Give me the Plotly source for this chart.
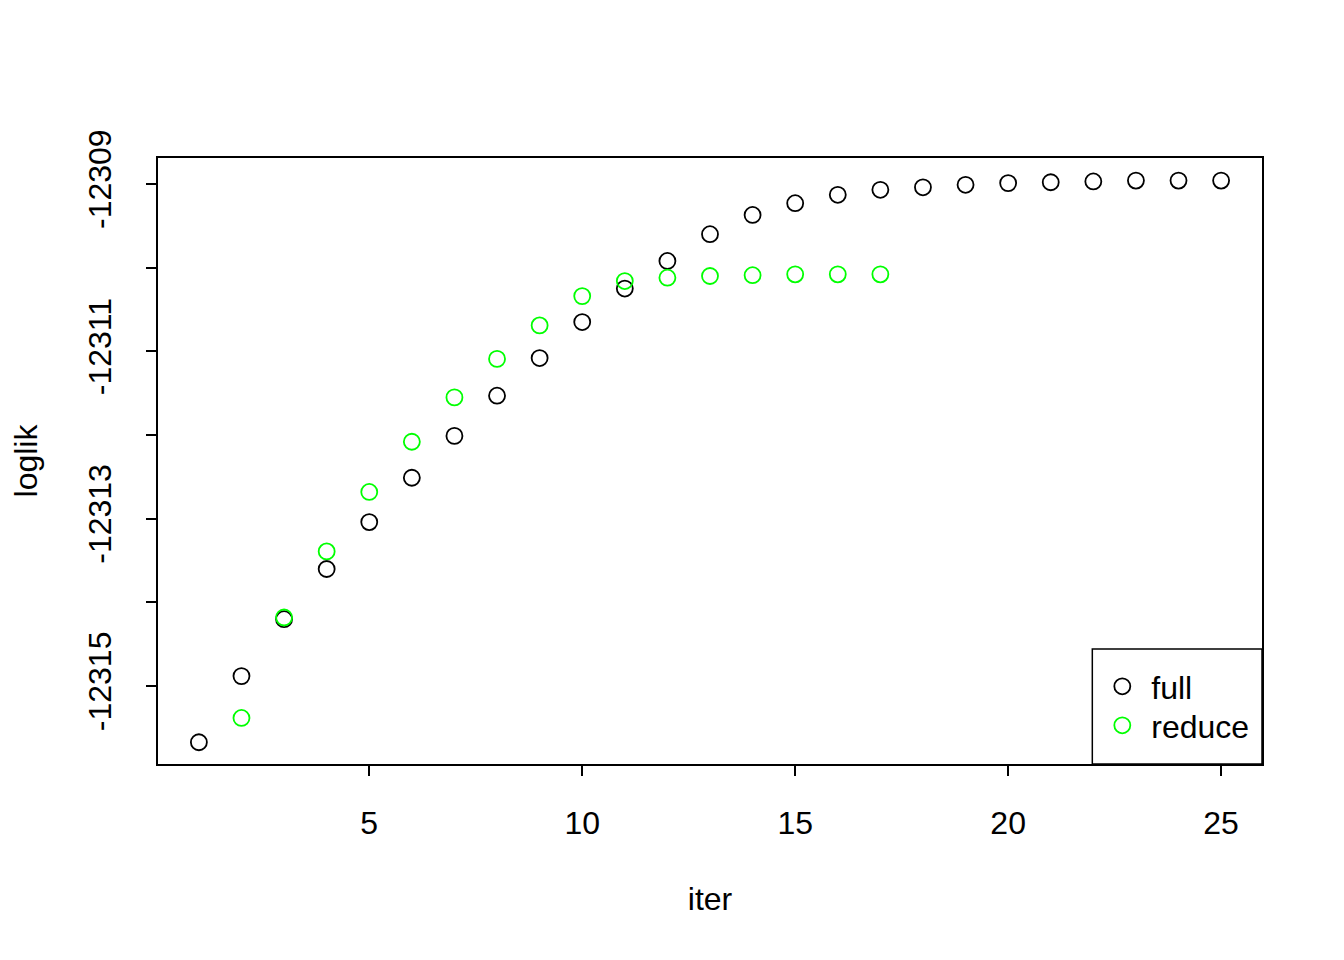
import plotly.graph_objects as go

iter_full = list(range(1, 26))
loglik_full = [-12315.67, -12314.88, -12314.20, -12313.60, -12313.04, -12312.51,
               -12312.01, -12311.53, -12311.08, -12310.65, -12310.25, -12309.92,
               -12309.60, -12309.37, -12309.23, -12309.13, -12309.07, -12309.04,
               -12309.01, -12308.99, -12308.98, -12308.97, -12308.96, -12308.96,
               -12308.96]
iter_reduce = list(range(2, 18))
loglik_reduce = [-12315.38, -12314.18, -12313.39, -12312.68, -12312.08, -12311.55,
                 -12311.09, -12310.69, -12310.34, -12310.16, -12310.12, -12310.10,
                 -12310.09, -12310.08, -12310.08, -12310.08]

y_ticks = [-12315, -12314, -12313, -12312, -12311, -12310, -12309]
y_ticktext = ["-12315", "", "-12313", "", "-12311", "", "-12309"]
x_ticks = [5, 10, 15, 20, 25]

FONT = "Liberation Sans, Arial, Helvetica, sans-serif"
FS = 32

fig = go.Figure()
fig.add_trace(go.Scatter(
    x=iter_full, y=loglik_full, mode="markers", name="full", legend="legend",
    marker=dict(symbol="circle-open", size=16, color="black", line=dict(width=1.8, color="black")),
))
fig.add_trace(go.Scatter(
    x=iter_reduce, y=loglik_reduce, mode="markers", name="reduce", legend="legend2",
    marker=dict(symbol="circle-open", size=16, color="#00FF00", line=dict(width=1.8, color="#00FF00")),
))

# legend frame (R-style box in the bottom-right corner)
fig.add_shape(type="rect", xref="paper", yref="paper",
              x0=0.8463, x1=1.0, y0=0.0, y1=0.1898,
              line=dict(color="black", width=1.5), fillcolor="rgba(0,0,0,0)", layer="above")

leg_common = dict(xanchor="left", yanchor="top", borderwidth=0, bgcolor="rgba(0,0,0,0)",
                  font=dict(size=FS), itemsizing="trace", itemwidth=48)

fig.update_layout(
    width=1344, height=960,
    paper_bgcolor="white", plot_bgcolor="white",
    margin=dict(l=150, r=90, t=150, b=204),
    font=dict(family=FONT, size=FS, color="black"),
    showlegend=True,
    legend=dict(x=0.8472, y=0.1733, **leg_common),
    legend2=dict(x=0.8472, y=0.1089, **leg_common),
    xaxis=dict(
        range=[0.04, 25.96], tickvals=x_ticks, ticktext=[str(v) for v in x_ticks],
        showgrid=False, zeroline=False, showline=True, linecolor="black", linewidth=1.5,
        mirror=True, ticks="outside", ticklen=10, tickwidth=1.5, tickcolor="black",
        ticklabelstandoff=20,
        title=dict(text="iter", font=dict(size=FS), standoff=47),
    ),
    yaxis=dict(
        range=[-12315.93, -12308.69], tickvals=y_ticks, ticktext=y_ticktext,
        tickangle=-90,
        showgrid=False, zeroline=False, showline=True, linecolor="black", linewidth=1.5,
        mirror=True, ticks="outside", ticklen=10, tickwidth=1.5, tickcolor="black",
        ticklabelstandoff=22,
        title=dict(text="loglik", font=dict(size=FS), standoff=40),
    ),
)

fig.write_html("out.html")
